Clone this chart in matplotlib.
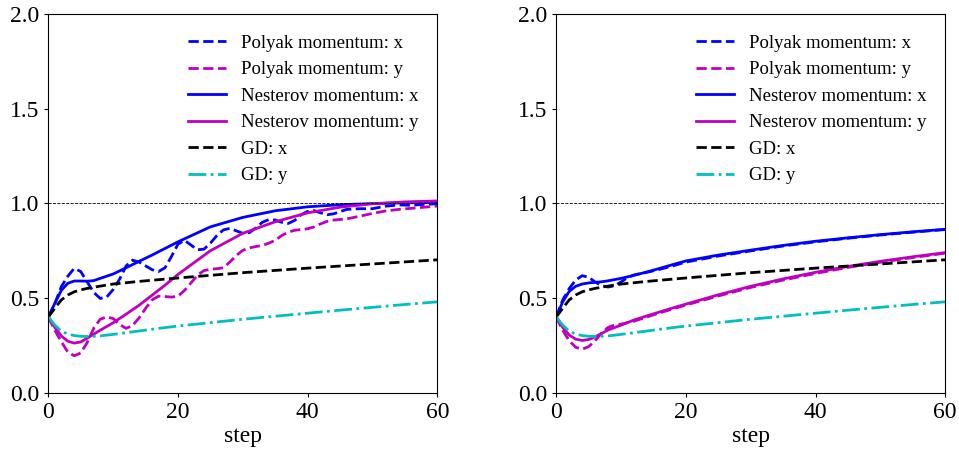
import matplotlib
matplotlib.use("Agg")
import matplotlib.pyplot as plt

plt.rcParams["font.family"] = ["Liberation Serif", "DejaVu Serif"]

# shared step grids
steps = [0, 1, 2, 3, 4, 5, 6, 7, 8, 10, 12, 14, 16, 18, 20, 25, 30, 35, 40, 45, 50, 55, 60]
steps_fine = list(range(0, 45)) + [46, 48, 50, 52, 54, 56, 58, 60]
steps_early = list(range(0, 13)) + [14, 16, 18, 20, 25, 30, 35, 40, 45, 50, 55, 60]

# gradient descent (same in both panels)
gd_x = [0.40, 0.446, 0.49, 0.516, 0.533, 0.543, 0.551, 0.557, 0.563, 0.574, 0.581, 0.588,
        0.594, 0.600, 0.606, 0.620, 0.634, 0.646, 0.658, 0.669, 0.680, 0.691, 0.702]
gd_y = [0.40, 0.357, 0.325, 0.310, 0.302, 0.298, 0.297, 0.298, 0.300, 0.308, 0.317, 0.326,
        0.335, 0.344, 0.352, 0.370, 0.388, 0.404, 0.420, 0.436, 0.451, 0.466, 0.480]

# left panel
nest_x_l = [0.40, 0.472, 0.54, 0.578, 0.590, 0.590, 0.589, 0.592, 0.604, 0.627, 0.660, 0.694,
            0.727, 0.762, 0.797, 0.876, 0.926, 0.961, 0.982, 0.993, 0.999, 1.003, 1.005]
nest_y_l = [0.40, 0.345, 0.300, 0.272, 0.262, 0.268, 0.288, 0.309, 0.330, 0.369, 0.415, 0.462,
            0.515, 0.568, 0.625, 0.750, 0.842, 0.903, 0.950, 0.980, 0.998, 1.008, 1.013]
polyak_x_l = [0.40, 0.47, 0.56, 0.615, 0.657, 0.640, 0.585, 0.530, 0.498, 0.505, 0.545, 0.600,
              0.670, 0.700, 0.690, 0.670, 0.650, 0.640, 0.660, 0.720, 0.785, 0.805, 0.780,
              0.755, 0.758, 0.790, 0.830, 0.860, 0.868, 0.855, 0.842, 0.845, 0.870, 0.900,
              0.914, 0.912, 0.900, 0.894, 0.910, 0.940, 0.958, 0.962, 0.950, 0.940, 0.945,
              0.968, 0.972, 0.972, 0.985, 0.992, 0.990, 0.995, 0.998]
polyak_y_l = [0.40, 0.33, 0.27, 0.215, 0.195, 0.21, 0.265, 0.34, 0.388, 0.400, 0.392, 0.36,
              0.340, 0.355, 0.395, 0.445, 0.49, 0.51, 0.508, 0.505, 0.510, 0.54, 0.58, 0.62,
              0.645, 0.652, 0.655, 0.660, 0.69, 0.725, 0.752, 0.765, 0.772, 0.778, 0.790,
              0.805, 0.83, 0.848, 0.858, 0.862, 0.866, 0.876, 0.892, 0.905, 0.912,
              0.918, 0.932, 0.947, 0.960, 0.968, 0.974, 0.980, 0.986]

# right panel
nest_x_r = [0.40, 0.48, 0.535, 0.562, 0.574, 0.580, 0.583, 0.586, 0.591, 0.604, 0.620, 0.638,
            0.657, 0.677, 0.696, 0.727, 0.753, 0.778, 0.800, 0.818, 0.835, 0.850, 0.863]
nest_y_r = [0.40, 0.345, 0.305, 0.283, 0.276, 0.281, 0.295, 0.313, 0.331, 0.357, 0.384, 0.406,
            0.427, 0.448, 0.468, 0.517, 0.562, 0.601, 0.636, 0.667, 0.694, 0.718, 0.740]
polyak_x_r = [0.40, 0.49, 0.55, 0.595, 0.618, 0.610, 0.585, 0.565, 0.558, 0.565, 0.585, 0.608,
              0.622, 0.636, 0.652, 0.670, 0.690, 0.722, 0.749, 0.775, 0.797, 0.816, 0.833,
              0.848, 0.862]
polyak_y_r = [0.40, 0.33, 0.275, 0.240, 0.230, 0.243, 0.275, 0.315, 0.345, 0.358, 0.362, 0.370,
              0.378, 0.400, 0.422, 0.443, 0.463, 0.511, 0.556, 0.595, 0.630, 0.662, 0.689,
              0.714, 0.737]


def draw(ax, px_steps, px, py, nx, ny):
    ax.plot(px_steps, px, "--", color="b", lw=2, label="Polyak momentum: x")
    ax.plot(px_steps, py, "--", color="m", lw=2, label="Polyak momentum: y")
    ax.plot(steps, nx, "-", color="b", lw=2, label="Nesterov momentum: x")
    ax.plot(steps, ny, "-", color="m", lw=2, label="Nesterov momentum: y")
    ax.plot(steps, gd_x, "--", color="k", lw=2, label="GD: x")
    ax.plot(steps, gd_y, "-.", color="c", lw=2, label="GD: y")
    ax.axhline(1.0, color="k", ls="--", lw=0.6)
    ax.set_xlim(0, 60)
    ax.set_ylim(0, 2.0)
    ax.set_xticks([0, 20, 40, 60])
    ax.set_yticks([0.0, 0.5, 1.0, 1.5, 2.0])
    ax.tick_params(labelsize=17, length=3)
    ax.set_xlabel("step", fontsize=17, labelpad=2)
    ax.legend(loc="upper right", bbox_to_anchor=(0.995, 0.99), frameon=False,
              fontsize=13.5, labelspacing=0.5)


fig = plt.figure(figsize=(9.59, 4.54), dpi=100)
ax1 = fig.add_axes([0.0504, 0.135, 0.4056, 0.834])
ax2 = fig.add_axes([0.580, 0.135, 0.4056, 0.834])

draw(ax1, steps_fine, polyak_x_l, polyak_y_l, nest_x_l, nest_y_l)
draw(ax2, steps_early, polyak_x_r, polyak_y_r, nest_x_r, nest_y_r)

fig.savefig("out.png", dpi=100)
